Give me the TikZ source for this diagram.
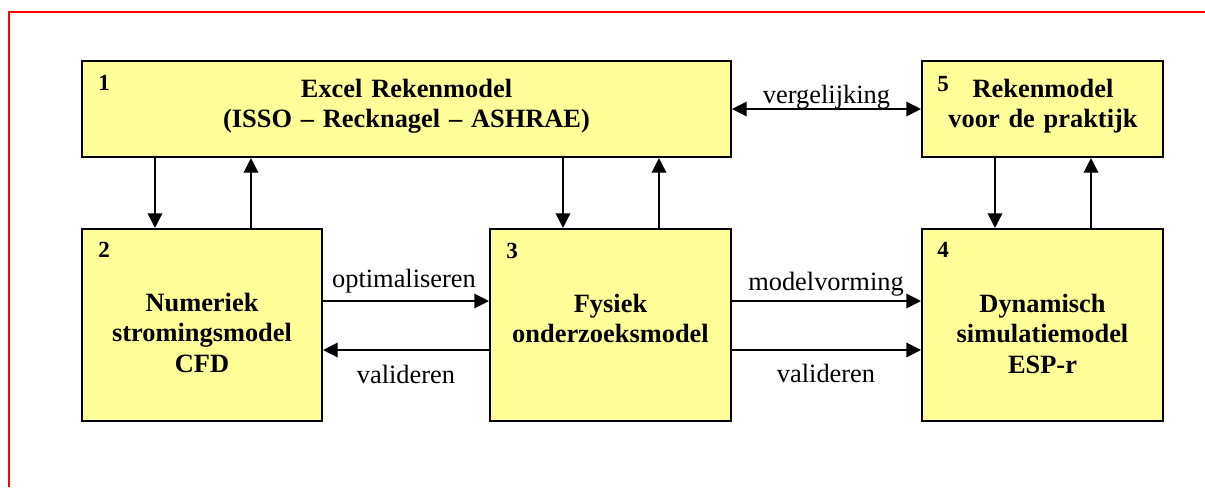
\documentclass[tikz,border=0pt]{standalone}
\usepackage{fontspec}
\setmainfont{Liberation Serif}
\usetikzlibrary{arrows.meta,fit}
\definecolor{boxyellow}{RGB}{255,255,153}
\begin{document}
\begin{tikzpicture}[x=0.75pt,y=-0.75pt,
  box/.style={draw=black, line width=1.6pt, fill=boxyellow, inner sep=0pt},
  arr/.style={line width=1.1pt, -{Triangle[length=11pt,width=11pt]}},
  biarr/.style={line width=1.1pt, {Triangle[length=11pt,width=11pt]}-{Triangle[length=11pt,width=11pt]}},
  ttl/.style={font=\bfseries\fontsize{19.8}{22.9}\selectfont, align=center, text width=300pt, anchor=base, inner sep=0pt},
  num/.style={font=\bfseries\fontsize{17.3}{20}\selectfont, anchor=base west, inner sep=0pt},
  lbl/.style={font=\fontsize{19.8}{22.9}\selectfont, anchor=base, inner sep=0pt}]
\useasboundingbox (0,0) rectangle (1205,487);
% red frame
\draw[red, line width=1.6pt] (9,487) -- (9,12) -- (1205,12);
% boxes
\node[box, fit={(82,61) (731,157)}] (b1) {};
\node[box, fit={(922,61) (1163,157)}] (b5) {};
\node[box, fit={(82,229) (322,421)}] (b2) {};
\node[box, fit={(490,229) (731,421)}] (b3) {};
\node[box, fit={(922,229) (1163,421)}] (b4) {};
% numbers
\node[num] (n1) at (98,90) {1};
\node[num] (n5) at (937,91) {5};
\node[num] (n2) at (98,257) {2};
\node[num] (n3) at (506,258) {3};
\node[num] (n4) at (937,257) {4};
% titles
\node[ttl] (t1) at (406.5,97) {Excel Rekenmodel\\(ISSO – Recknagel – ASHRAE)};
\node[ttl] (t5) at (1043,97) {Rekenmodel\\voor de praktijk};
\node[ttl] (t2) at (202,311) {Numeriek\\stromingsmodel\\CFD};
\node[ttl] (t3) at (610.5,312) {Fysiek\\onderzoeksmodel};
\node[ttl] (t4) at (1042.5,312) {Dynamisch\\simulatiemodel\\ESP-r};
% x positions for vertical connectors
\coordinate (xa) at (155,0);
\coordinate (xb) at (251,0);
\coordinate (xc) at (563,0);
\coordinate (xd) at (659,0);
\coordinate (xe) at (995,0);
\coordinate (xf) at (1091,0);
% y positions for horizontal connectors
\coordinate (ya) at (0,109);
\coordinate (yb) at (0,301);
\coordinate (yc) at (0,350);
% vertical connectors
\draw[arr] (b1.south -| xa) -- (b2.north -| xa);
\draw[arr] (b2.north -| xb) -- (b1.south -| xb);
\draw[arr] (b1.south -| xc) -- (b3.north -| xc);
\draw[arr] (b3.north -| xd) -- (b1.south -| xd);
\draw[arr] (b5.south -| xe) -- (b4.north -| xe);
\draw[arr] (b4.north -| xf) -- (b5.south -| xf);
% horizontal connectors
\draw[biarr] (b1.east |- ya) -- (b5.west |- ya);
\draw[arr] (b2.east |- yb) -- (b3.west |- yb);
\draw[arr] (b3.west |- yc) -- (b2.east |- yc);
\draw[arr] (b3.east |- yb) -- (b4.west |- yb);
\draw[arr] (b3.east |- yc) -- (b4.west |- yc);
% labels
\node[lbl] (l1) at (826.5,103) {vergelijking};
\node[lbl] (l2) at (404,287) {optimaliseren};
\node[lbl] (l3) at (406,383) {valideren};
\node[lbl] (l4) at (826,290) {modelvorming};
\node[lbl] (l5) at (826,382) {valideren};
\end{tikzpicture}
\end{document}
